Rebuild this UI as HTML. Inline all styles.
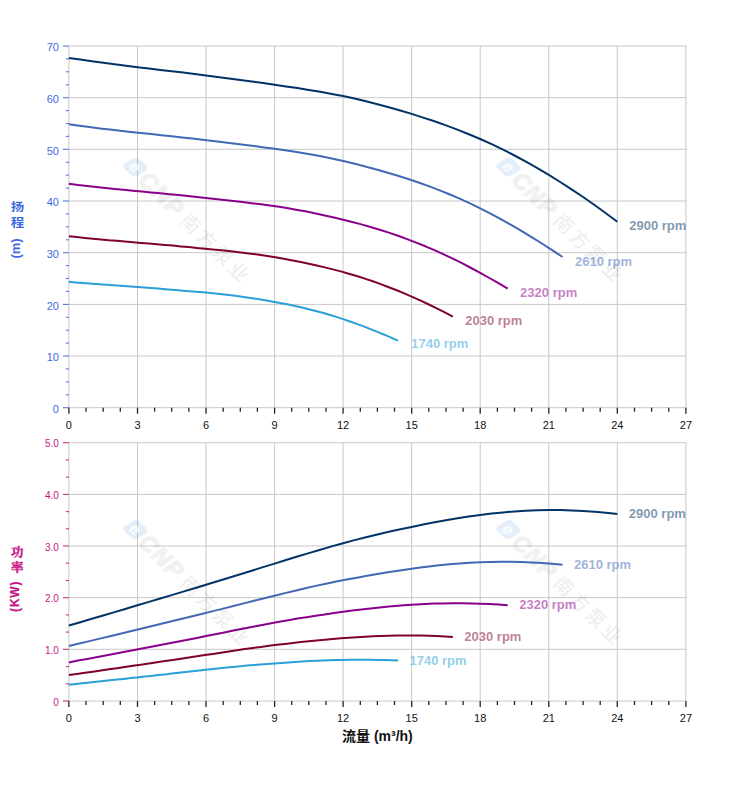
<!DOCTYPE html>
<html lang="zh-CN"><head><meta charset="utf-8"><title>性能曲线</title>
<style>
html,body{margin:0;padding:0;background:#fff;}
body{width:752px;height:797px;overflow:hidden;}
svg{display:block;}
text{font-family:"Liberation Sans","Noto Sans CJK SC",sans-serif;}
.tk{font-size:11px;}
.lb{font-size:13px;font-weight:bold;fill-opacity:.52;}
.cv{fill:none;stroke-width:2;stroke-linecap:butt;stroke-linejoin:round;}
</style></head><body>
<svg width="752" height="797" viewBox="0 0 752 797">
<rect width="752" height="797" fill="#fff"/>
<g stroke="#c8c8c8" stroke-width="1" fill="none">
<path d="M68.4 407.7 H686.4"/>
<path d="M68.4 356 H686.4"/>
<path d="M68.4 304.4 H686.4"/>
<path d="M68.4 252.7 H686.4"/>
<path d="M68.4 201 H686.4"/>
<path d="M68.4 149.3 H686.4"/>
<path d="M68.4 97.7 H686.4"/>
<path d="M68.4 46 H686.4"/>
</g>
<g stroke="#c8c8c8" stroke-width="1" fill="none">
<path d="M68.9 46 V407.7"/>
<path d="M137.5 46 V407.7"/>
<path d="M206 46 V407.7"/>
<path d="M274.6 46 V407.7"/>
<path d="M343.1 46 V407.7"/>
<path d="M411.7 46 V407.7"/>
<path d="M480.2 46 V407.7"/>
<path d="M548.8 46 V407.7"/>
<path d="M617.3 46 V407.7"/>
<path d="M685.9 46 V407.7"/>
</g>
<g stroke="#4169e1" stroke-opacity=".9" stroke-width="1.1">
<path d="M62.9 407.7 H68.9"/>
<path d="M65.9 394.8 H68.9"/>
<path d="M65.9 381.9 H68.9"/>
<path d="M65.9 368.9 H68.9"/>
<path d="M62.9 356 H68.9"/>
<path d="M65.9 343.1 H68.9"/>
<path d="M65.9 330.2 H68.9"/>
<path d="M65.9 317.3 H68.9"/>
<path d="M62.9 304.4 H68.9"/>
<path d="M65.9 291.4 H68.9"/>
<path d="M65.9 278.5 H68.9"/>
<path d="M65.9 265.6 H68.9"/>
<path d="M62.9 252.7 H68.9"/>
<path d="M65.9 239.8 H68.9"/>
<path d="M65.9 226.8 H68.9"/>
<path d="M65.9 213.9 H68.9"/>
<path d="M62.9 201 H68.9"/>
<path d="M65.9 188.1 H68.9"/>
<path d="M65.9 175.2 H68.9"/>
<path d="M65.9 162.3 H68.9"/>
<path d="M62.9 149.3 H68.9"/>
<path d="M65.9 136.4 H68.9"/>
<path d="M65.9 123.5 H68.9"/>
<path d="M65.9 110.6 H68.9"/>
<path d="M62.9 97.7 H68.9"/>
<path d="M65.9 84.8 H68.9"/>
<path d="M65.9 71.8 H68.9"/>
<path d="M65.9 58.9 H68.9"/>
<path d="M62.9 46 H68.9"/>
</g>
<g stroke="#222" stroke-width="1.3">
<path d="M68.9 407.7 V413.7"/>
<path d="M86 407.7 V411.7"/>
<path d="M103.2 407.7 V411.7"/>
<path d="M120.3 407.7 V411.7"/>
<path d="M137.5 407.7 V413.7"/>
<path d="M154.6 407.7 V411.7"/>
<path d="M171.7 407.7 V411.7"/>
<path d="M188.9 407.7 V411.7"/>
<path d="M206 407.7 V413.7"/>
<path d="M223.2 407.7 V411.7"/>
<path d="M240.3 407.7 V411.7"/>
<path d="M257.4 407.7 V411.7"/>
<path d="M274.6 407.7 V413.7"/>
<path d="M291.7 407.7 V411.7"/>
<path d="M308.8 407.7 V411.7"/>
<path d="M326 407.7 V411.7"/>
<path d="M343.1 407.7 V413.7"/>
<path d="M360.3 407.7 V411.7"/>
<path d="M377.4 407.7 V411.7"/>
<path d="M394.5 407.7 V411.7"/>
<path d="M411.7 407.7 V413.7"/>
<path d="M428.8 407.7 V411.7"/>
<path d="M446 407.7 V411.7"/>
<path d="M463.1 407.7 V411.7"/>
<path d="M480.2 407.7 V413.7"/>
<path d="M497.4 407.7 V411.7"/>
<path d="M514.5 407.7 V411.7"/>
<path d="M531.6 407.7 V411.7"/>
<path d="M548.8 407.7 V413.7"/>
<path d="M565.9 407.7 V411.7"/>
<path d="M583.1 407.7 V411.7"/>
<path d="M600.2 407.7 V411.7"/>
<path d="M617.3 407.7 V413.7"/>
<path d="M634.5 407.7 V411.7"/>
<path d="M651.6 407.7 V411.7"/>
<path d="M668.8 407.7 V411.7"/>
<path d="M685.9 407.7 V413.7"/>
</g>
<g font-size="11" fill="#4169e1" text-anchor="end">
<text x="58.9" y="412.9">0</text>
<text x="58.9" y="361.2">10</text>
<text x="58.9" y="309.6">20</text>
<text x="58.9" y="257.9">30</text>
<text x="58.9" y="206.2">40</text>
<text x="58.9" y="154.5">50</text>
<text x="58.9" y="102.9">60</text>
<text x="58.9" y="51.2">70</text>
</g>
<g class="tk" fill="#111" text-anchor="middle">
<text x="68.9" y="429.2">0</text>
<text x="137.5" y="429.2">3</text>
<text x="206" y="429.2">6</text>
<text x="274.6" y="429.2">9</text>
<text x="343.1" y="429.2">12</text>
<text x="411.7" y="429.2">15</text>
<text x="480.2" y="429.2">18</text>
<text x="548.8" y="429.2">21</text>
<text x="617.3" y="429.2">24</text>
<text x="685.9" y="429.2">27</text>
</g>
<g transform="translate(134.5 167) rotate(45)">
<rect x="-8.3" y="-9.3" width="17.6" height="17.6" rx="4.3" transform="skewX(-15)" fill="#4a90d9" fill-opacity=".14"/>
<text x="-4.4" y="4.6" font-size="16" font-weight="bold" font-style="italic" fill="#fff" fill-opacity=".85">e</text>
<g opacity=".052" fill="#000" stroke="#000" stroke-linejoin="round">
<text x="12" y="8" font-size="23" font-weight="bold" font-style="italic" stroke-width="1.5" letter-spacing="1.5">CNP</text>
</g>
<text x="70" y="7.4" font-size="19.6" font-weight="bold" fill="#000" fill-opacity=".065" letter-spacing="3">南方泵业</text>
</g>
<g transform="translate(507.7 167) rotate(45)">
<rect x="-8.3" y="-9.3" width="17.6" height="17.6" rx="4.3" transform="skewX(-15)" fill="#4a90d9" fill-opacity=".14"/>
<text x="-4.4" y="4.6" font-size="16" font-weight="bold" font-style="italic" fill="#fff" fill-opacity=".85">e</text>
<g opacity=".052" fill="#000" stroke="#000" stroke-linejoin="round">
<text x="12" y="8" font-size="23" font-weight="bold" font-style="italic" stroke-width="1.5" letter-spacing="1.5">CNP</text>
</g>
<text x="70" y="7.4" font-size="19.6" font-weight="bold" fill="#000" fill-opacity=".065" letter-spacing="3">南方泵业</text>
</g>
<path class="cv" stroke="#003366" d="M68.9 57.9 L80.3 59.6 L91.8 61.3 L103.2 62.8 L114.6 64.3 L126 65.8 L137.5 67.2 L148.9 68.6 L160.3 69.9 L171.7 71.3 L183.2 72.6 L194.6 74 L206 75.5 L217.4 76.9 L228.9 78.4 L240.3 80 L251.7 81.5 L263.1 83.1 L274.6 84.8 L286 86.4 L297.4 88.1 L308.8 89.9 L320.3 91.8 L331.7 93.9 L343.1 96.1 L354.5 98.6 L366 101.3 L377.4 104.2 L388.8 107.2 L400.3 110.5 L411.7 113.9 L423.1 117.6 L434.5 121.3 L446 125.4 L457.4 129.6 L468.8 134.2 L480.2 139 L491.7 144.2 L503.1 149.7 L514.5 155.5 L525.9 161.7 L537.4 168.1 L548.8 174.9 L560.2 182 L571.6 189.4 L583.1 197 L594.5 205 L605.9 213.2 L617.3 221.7"/>
<text class="lb" fill="#003366" x="629.2" y="229.7">2900 rpm</text>
<path class="cv" stroke="#4169b4" d="M68.9 124.3 L79.2 125.8 L89.5 127.1 L99.8 128.4 L110 129.6 L120.3 130.7 L130.6 131.9 L140.9 133 L151.2 134.1 L161.4 135.2 L171.7 136.3 L182 137.4 L192.3 138.6 L202.6 139.8 L212.9 141 L223.2 142.2 L233.4 143.5 L243.7 144.8 L254 146.1 L264.3 147.4 L274.6 148.8 L284.9 150.3 L295.1 151.8 L305.4 153.5 L315.7 155.3 L326 157.3 L336.3 159.5 L346.6 161.8 L356.8 164.3 L367.1 167 L377.4 169.8 L387.7 172.7 L398 175.8 L408.2 179 L418.5 182.5 L428.8 186.1 L439.1 190.1 L449.4 194.3 L459.7 198.7 L470 203.4 L480.2 208.4 L490.5 213.7 L500.8 219.1 L511.1 224.9 L521.4 230.8 L531.6 237.1 L541.9 243.5 L552.2 250.1 L562.5 257"/>
<text class="lb" fill="#4169b4" x="575" y="265.9">2610 rpm</text>
<path class="cv" stroke="#8b008b" d="M68.9 183.8 L78 184.9 L87.2 186 L96.3 187 L105.5 187.9 L114.6 188.9 L123.7 189.8 L132.9 190.7 L142 191.5 L151.2 192.4 L160.3 193.3 L169.4 194.2 L178.6 195.1 L187.7 196 L196.9 197 L206 197.9 L215.2 199 L224.3 200 L233.4 201 L242.6 202.1 L251.7 203.2 L260.9 204.3 L270 205.5 L279.1 206.8 L288.3 208.3 L297.4 209.9 L306.6 211.6 L315.7 213.4 L324.8 215.4 L334 217.5 L343.1 219.7 L352.3 222 L361.4 224.4 L370.5 227 L379.7 229.7 L388.8 232.6 L398 235.7 L407.1 239.1 L416.2 242.6 L425.4 246.3 L434.5 250.2 L443.7 254.4 L452.8 258.7 L462 263.2 L471.1 268 L480.2 272.9 L489.4 278 L498.5 283.2 L507.7 288.6"/>
<text class="lb" fill="#8b008b" x="520.1" y="297.1">2320 rpm</text>
<path class="cv" stroke="#800030" d="M68.9 236.3 L76.9 237.1 L84.9 237.9 L92.9 238.7 L100.9 239.4 L108.9 240.2 L116.9 240.8 L124.9 241.5 L132.9 242.2 L140.9 242.9 L148.9 243.5 L156.9 244.2 L164.9 244.9 L172.9 245.6 L180.9 246.4 L188.9 247.1 L196.9 247.9 L204.9 248.7 L212.9 249.5 L220.9 250.3 L228.9 251.1 L236.9 252 L244.9 252.9 L252.9 253.9 L260.9 255 L268.9 256.2 L276.9 257.6 L284.9 259 L292.8 260.5 L300.8 262.1 L308.8 263.8 L316.8 265.5 L324.8 267.4 L332.8 269.4 L340.8 271.4 L348.8 273.7 L356.8 276 L364.8 278.6 L372.8 281.3 L380.8 284.1 L388.8 287.2 L396.8 290.3 L404.8 293.6 L412.8 297.1 L420.8 300.7 L428.8 304.5 L436.8 308.4 L444.8 312.4 L452.8 316.6"/>
<text class="lb" fill="#800030" x="465.2" y="324.7">2030 rpm</text>
<path class="cv" stroke="#2a9fd8" d="M68.9 281.8 L75.8 282.4 L82.6 283 L89.5 283.5 L96.3 284.1 L103.2 284.6 L110 285.1 L116.9 285.6 L123.7 286.1 L130.6 286.6 L137.5 287.1 L144.3 287.6 L151.2 288.1 L158 288.6 L164.9 289.2 L171.7 289.7 L178.6 290.3 L185.4 290.9 L192.3 291.4 L199.2 292 L206 292.6 L212.9 293.3 L219.7 294 L226.6 294.7 L233.4 295.5 L240.3 296.4 L247.1 297.4 L254 298.4 L260.9 299.5 L267.7 300.7 L274.6 301.9 L281.4 303.2 L288.3 304.6 L295.1 306.1 L302 307.6 L308.8 309.2 L315.7 311 L322.6 312.8 L329.4 314.8 L336.3 316.9 L343.1 319.1 L350 321.5 L356.8 323.9 L363.7 326.4 L370.5 329.1 L377.4 331.9 L384.3 334.7 L391.1 337.7 L398 340.7"/>
<text class="lb" fill="#2a9fd8" x="411.2" y="348.4">1740 rpm</text>
<g stroke="#c8c8c8" stroke-width="1" fill="none">
<path d="M68.4 701 H686.4"/>
<path d="M68.4 649.3 H686.4"/>
<path d="M68.4 597.7 H686.4"/>
<path d="M68.4 546 H686.4"/>
<path d="M68.4 494.4 H686.4"/>
<path d="M68.4 442.7 H686.4"/>
</g>
<g stroke="#c8c8c8" stroke-width="1" fill="none">
<path d="M68.9 442.7 V701"/>
<path d="M137.5 442.7 V701"/>
<path d="M206 442.7 V701"/>
<path d="M274.6 442.7 V701"/>
<path d="M343.1 442.7 V701"/>
<path d="M411.7 442.7 V701"/>
<path d="M480.2 442.7 V701"/>
<path d="M548.8 442.7 V701"/>
<path d="M617.3 442.7 V701"/>
<path d="M685.9 442.7 V701"/>
</g>
<g stroke="#c71585" stroke-opacity=".9" stroke-width="1.1">
<path d="M62.9 701 H68.9"/>
<path d="M65.9 683.8 H68.9"/>
<path d="M65.9 666.6 H68.9"/>
<path d="M62.9 649.3 H68.9"/>
<path d="M65.9 632.1 H68.9"/>
<path d="M65.9 614.9 H68.9"/>
<path d="M62.9 597.7 H68.9"/>
<path d="M65.9 580.5 H68.9"/>
<path d="M65.9 563.2 H68.9"/>
<path d="M62.9 546 H68.9"/>
<path d="M65.9 528.8 H68.9"/>
<path d="M65.9 511.6 H68.9"/>
<path d="M62.9 494.4 H68.9"/>
<path d="M65.9 477.1 H68.9"/>
<path d="M65.9 459.9 H68.9"/>
<path d="M62.9 442.7 H68.9"/>
</g>
<g stroke="#222" stroke-width="1.3">
<path d="M68.9 701 V707"/>
<path d="M86 701 V705"/>
<path d="M103.2 701 V705"/>
<path d="M120.3 701 V705"/>
<path d="M137.5 701 V707"/>
<path d="M154.6 701 V705"/>
<path d="M171.7 701 V705"/>
<path d="M188.9 701 V705"/>
<path d="M206 701 V707"/>
<path d="M223.2 701 V705"/>
<path d="M240.3 701 V705"/>
<path d="M257.4 701 V705"/>
<path d="M274.6 701 V707"/>
<path d="M291.7 701 V705"/>
<path d="M308.8 701 V705"/>
<path d="M326 701 V705"/>
<path d="M343.1 701 V707"/>
<path d="M360.3 701 V705"/>
<path d="M377.4 701 V705"/>
<path d="M394.5 701 V705"/>
<path d="M411.7 701 V707"/>
<path d="M428.8 701 V705"/>
<path d="M446 701 V705"/>
<path d="M463.1 701 V705"/>
<path d="M480.2 701 V707"/>
<path d="M497.4 701 V705"/>
<path d="M514.5 701 V705"/>
<path d="M531.6 701 V705"/>
<path d="M548.8 701 V707"/>
<path d="M565.9 701 V705"/>
<path d="M583.1 701 V705"/>
<path d="M600.2 701 V705"/>
<path d="M617.3 701 V707"/>
<path d="M634.5 701 V705"/>
<path d="M651.6 701 V705"/>
<path d="M668.8 701 V705"/>
<path d="M685.9 701 V707"/>
</g>
<g font-size="10" fill="#c71585" text-anchor="end">
<text x="58.9" y="705.7">0</text>
<text x="58.9" y="654">1.0</text>
<text x="58.9" y="602.4">2.0</text>
<text x="58.9" y="550.7">3.0</text>
<text x="58.9" y="499.1">4.0</text>
<text x="58.9" y="447.4">5.0</text>
</g>
<g class="tk" fill="#111" text-anchor="middle">
<text x="68.9" y="722">0</text>
<text x="137.5" y="722">3</text>
<text x="206" y="722">6</text>
<text x="274.6" y="722">9</text>
<text x="343.1" y="722">12</text>
<text x="411.7" y="722">15</text>
<text x="480.2" y="722">18</text>
<text x="548.8" y="722">21</text>
<text x="617.3" y="722">24</text>
<text x="685.9" y="722">27</text>
</g>
<g transform="translate(134.5 529.5) rotate(45)">
<rect x="-8.3" y="-9.3" width="17.6" height="17.6" rx="4.3" transform="skewX(-15)" fill="#4a90d9" fill-opacity=".14"/>
<text x="-4.4" y="4.6" font-size="16" font-weight="bold" font-style="italic" fill="#fff" fill-opacity=".85">e</text>
<g opacity=".052" fill="#000" stroke="#000" stroke-linejoin="round">
<text x="12" y="8" font-size="23" font-weight="bold" font-style="italic" stroke-width="1.5" letter-spacing="1.5">CNP</text>
</g>
<text x="70" y="7.4" font-size="19.6" font-weight="bold" fill="#000" fill-opacity=".065" letter-spacing="3">南方泵业</text>
</g>
<g transform="translate(507.7 529.5) rotate(45)">
<rect x="-8.3" y="-9.3" width="17.6" height="17.6" rx="4.3" transform="skewX(-15)" fill="#4a90d9" fill-opacity=".14"/>
<text x="-4.4" y="4.6" font-size="16" font-weight="bold" font-style="italic" fill="#fff" fill-opacity=".85">e</text>
<g opacity=".052" fill="#000" stroke="#000" stroke-linejoin="round">
<text x="12" y="8" font-size="23" font-weight="bold" font-style="italic" stroke-width="1.5" letter-spacing="1.5">CNP</text>
</g>
<text x="70" y="7.4" font-size="19.6" font-weight="bold" fill="#000" fill-opacity=".065" letter-spacing="3">南方泵业</text>
</g>
<path class="cv" stroke="#003366" d="M68.9 625.5 L80.3 622.2 L91.8 618.8 L103.2 615.5 L114.6 612.1 L126 608.7 L137.5 605.3 L148.9 601.9 L160.3 598.5 L171.7 595.1 L183.2 591.6 L194.6 588.2 L206 584.7 L217.4 581.2 L228.9 577.7 L240.3 574.2 L251.7 570.7 L263.1 567.1 L274.6 563.6 L286 560 L297.4 556.5 L308.8 553.1 L320.3 549.7 L331.7 546.4 L343.1 543.2 L354.5 540.1 L366 537.2 L377.4 534.5 L388.8 531.8 L400.3 529.3 L411.7 526.9 L423.1 524.5 L434.5 522.3 L446 520.2 L457.4 518.2 L468.8 516.4 L480.2 514.9 L491.7 513.5 L503.1 512.4 L514.5 511.4 L525.9 510.7 L537.4 510.3 L548.8 510.1 L560.2 510.1 L571.6 510.4 L583.1 510.9 L594.5 511.7 L605.9 512.7 L617.3 514"/>
<text class="lb" fill="#003366" x="628.8" y="518.1">2900 rpm</text>
<path class="cv" stroke="#4169b4" d="M68.9 646 L79.2 643.5 L89.5 641.1 L99.8 638.6 L110 636.2 L120.3 633.7 L130.6 631.3 L140.9 628.8 L151.2 626.3 L161.4 623.8 L171.7 621.3 L182 618.8 L192.3 616.2 L202.6 613.7 L212.9 611.1 L223.2 608.6 L233.4 606 L243.7 603.4 L254 600.8 L264.3 598.2 L274.6 595.7 L284.9 593.1 L295.1 590.7 L305.4 588.3 L315.7 585.9 L326 583.7 L336.3 581.6 L346.6 579.6 L356.8 577.7 L367.1 575.8 L377.4 574 L387.7 572.3 L398 570.7 L408.2 569.2 L418.5 567.8 L428.8 566.5 L439.1 565.3 L449.4 564.3 L459.7 563.5 L470 562.8 L480.2 562.3 L490.5 562 L500.8 561.8 L511.1 561.8 L521.4 562 L531.6 562.4 L541.9 563 L552.2 563.7 L562.5 564.7"/>
<text class="lb" fill="#4169b4" x="574" y="568.8">2610 rpm</text>
<path class="cv" stroke="#8b008b" d="M68.9 662.4 L78 660.6 L87.2 658.9 L96.3 657.2 L105.5 655.5 L114.6 653.7 L123.7 652 L132.9 650.3 L142 648.5 L151.2 646.8 L160.3 645 L169.4 643.2 L178.6 641.5 L187.7 639.7 L196.9 637.9 L206 636.1 L215.2 634.3 L224.3 632.5 L233.4 630.6 L242.6 628.8 L251.7 627 L260.9 625.3 L270 623.5 L279.1 621.8 L288.3 620.2 L297.4 618.6 L306.6 617.2 L315.7 615.7 L324.8 614.4 L334 613.1 L343.1 611.8 L352.3 610.6 L361.4 609.5 L370.5 608.4 L379.7 607.4 L388.8 606.5 L398 605.7 L407.1 605 L416.2 604.4 L425.4 603.9 L434.5 603.6 L443.7 603.4 L452.8 603.2 L462 603.3 L471.1 603.4 L480.2 603.7 L489.4 604.1 L498.5 604.6 L507.7 605.3"/>
<text class="lb" fill="#8b008b" x="519.2" y="609.4">2320 rpm</text>
<path class="cv" stroke="#800030" d="M68.9 675.1 L76.9 674 L84.9 672.8 L92.9 671.7 L100.9 670.5 L108.9 669.3 L116.9 668.2 L124.9 667 L132.9 665.8 L140.9 664.7 L148.9 663.5 L156.9 662.3 L164.9 661.1 L172.9 659.9 L180.9 658.7 L188.9 657.5 L196.9 656.3 L204.9 655.1 L212.9 653.9 L220.9 652.7 L228.9 651.4 L236.9 650.3 L244.9 649.1 L252.9 648 L260.9 646.9 L268.9 645.8 L276.9 644.8 L284.9 643.9 L292.8 643 L300.8 642.1 L308.8 641.3 L316.8 640.5 L324.8 639.7 L332.8 639 L340.8 638.3 L348.8 637.7 L356.8 637.2 L364.8 636.7 L372.8 636.3 L380.8 636 L388.8 635.7 L396.8 635.6 L404.8 635.5 L412.8 635.5 L420.8 635.6 L428.8 635.8 L436.8 636.1 L444.8 636.4 L452.8 636.9"/>
<text class="lb" fill="#800030" x="464.3" y="641">2030 rpm</text>
<path class="cv" stroke="#2a9fd8" d="M68.9 684.7 L75.8 684 L82.6 683.2 L89.5 682.5 L96.3 681.8 L103.2 681.1 L110 680.3 L116.9 679.6 L123.7 678.9 L130.6 678.1 L137.5 677.4 L144.3 676.6 L151.2 675.9 L158 675.1 L164.9 674.4 L171.7 673.6 L178.6 672.8 L185.4 672.1 L192.3 671.3 L199.2 670.6 L206 669.8 L212.9 669 L219.7 668.3 L226.6 667.6 L233.4 666.9 L240.3 666.3 L247.1 665.6 L254 665 L260.9 664.5 L267.7 663.9 L274.6 663.4 L281.4 662.9 L288.3 662.4 L295.1 661.9 L302 661.5 L308.8 661.1 L315.7 660.8 L322.6 660.5 L329.4 660.3 L336.3 660.1 L343.1 659.9 L350 659.8 L356.8 659.8 L363.7 659.8 L370.5 659.8 L377.4 659.9 L384.3 660.1 L391.1 660.3 L398 660.6"/>
<text class="lb" fill="#2a9fd8" x="409.5" y="664.7">1740 rpm</text>
<text x="342" y="741" font-size="14" font-weight="bold" fill="#111">流量 (m³/h)</text>
<g font-weight="bold" fill="#4169e1">
<text transform="translate(17.4 211.1) scale(1 .88)" font-size="13.5" text-anchor="middle">扬</text>
<text transform="translate(17.4 226.7) scale(1 .88)" font-size="13.5" text-anchor="middle">程</text>
<text transform="translate(19.7 258.6) rotate(-90)" font-size="13">(m)</text>
</g>
<g font-weight="bold" fill="#c71585" stroke="#c71585" stroke-width=".35">
<text x="17.3" y="557" font-size="12.5" text-anchor="middle" style="font-family:'Liberation Serif','Noto Serif CJK SC',serif">功</text>
<text x="17.3" y="572" font-size="12.5" text-anchor="middle" style="font-family:'Liberation Serif','Noto Serif CJK SC',serif">率</text>
<text transform="translate(19.2 611.9) rotate(-90)" font-size="12" letter-spacing=".8" stroke-width=".2">(KW)</text>
</g>
</svg></body></html>
